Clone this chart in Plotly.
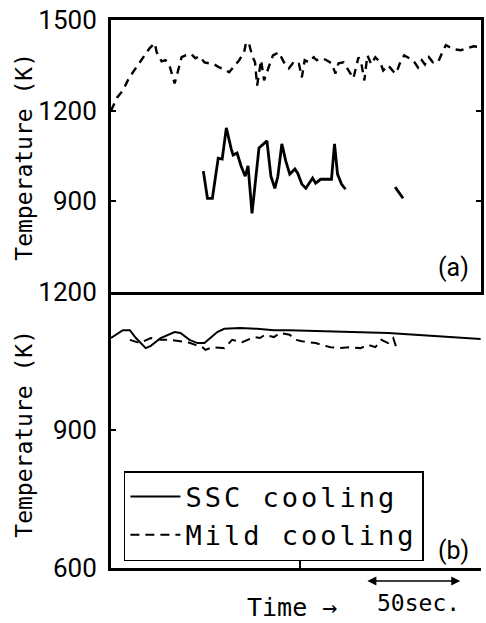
import plotly.graph_objects as go

# ---- data (time in s, temperature in K) ----
# panel (a): Mild cooling (dashed)
a_mild_t = [0, 3.2, 6.3, 8.9, 11.6, 15.3, 17.9, 20.5, 23.2, 24.2, 26.8, 28.9, 31.1, 33.7, 35.3,
            37.4, 39.5, 42.6, 44.7, 46.8, 49.5, 52.1, 54.7, 57.4, 60, 62.6, 65.3, 67.9, 70.5,
            71.6, 73.2, 74.7, 76.3, 77.4, 79.5, 81.1, 83.7, 85.8, 88.9, 91.6, 94.2, 96.3, 98.4,
            99.5, 101.1, 102.6, 104.7, 107.4, 108.9, 112.1, 114.2, 116.8, 118.9, 120.5, 123.2,
            125.8, 128.4, 131.1, 132.6, 134.2, 135.8, 137.9, 140, 142.6, 144.2, 146.8, 149.5,
            151.1, 153.2, 155.3, 157.9, 160, 162.6, 164.7, 166.3, 168.4, 170.5, 173.2, 175.3,
            177.4, 179.5, 182.1, 185.3, 188.9, 192.1, 195.3]
a_mild_T = [1200, 1243, 1267, 1300, 1327, 1360, 1387, 1407, 1423, 1393, 1363, 1367, 1347, 1290, 1327,
            1377, 1383, 1387, 1373, 1380, 1360, 1357, 1353, 1343, 1337, 1327, 1347, 1367, 1393,
            1427, 1420, 1383, 1360, 1283, 1367, 1300, 1347, 1383, 1393, 1360, 1340, 1357, 1350,
            1357, 1310, 1367, 1360, 1377, 1367, 1373, 1367, 1357, 1323, 1357, 1360,
            1333, 1307, 1377, 1357, 1300, 1383, 1353, 1377, 1360, 1333, 1350, 1330,
            1323, 1360, 1383, 1373, 1367, 1343, 1367, 1353, 1377, 1360, 1360, 1390,
            1417, 1410, 1403, 1400, 1407, 1413, 1410]

# panel (a): SSC cooling (solid)
a_ssc_t = [48.9, 51.1, 53.7, 56.8, 58.9, 61.1, 63.7, 64.7, 66.8, 68.9, 71.1, 72.6, 74.7, 76.8,
           78.4, 82.6, 84.7, 86.8, 88.4, 90.5, 92.6, 94.7, 97.4, 98.9, 101.1, 103.2, 106.8,
           108.4, 111.1, 116.8, 118.4, 120, 122.1, 124.2, None, 150.5, 154.7]
a_ssc_T = [1000, 910, 910, 1043, 1040, 1143, 1073, 1053, 1060, 1017, 983, 1017, 860, 993,
           1077, 1100, 983, 943, 983, 1090, 1033, 990, 1007, 993, 957, 943, 977,
           960, 973, 973, 1090, 990, 957, 940, None, 947, 910]

# panel (b): SSC cooling (solid)
b_ssc_t = [0, 6.3, 10, 13.2, 18.4, 21.1, 26.3, 33.7, 36.8, 41.6, 45.8, 49.5, 52.6, 56.3, 60,
           68.4, 77.4, 86.3, 94.2, 111.6, 129.5, 146.8, 161.1, 178.4, 195.8]
b_ssc_T = [1100, 1117, 1117, 1100, 1078, 1083, 1100, 1113, 1111, 1096, 1089, 1089, 1100, 1113, 1120,
           1122, 1120, 1117, 1117, 1115, 1113, 1111, 1107, 1102, 1098]

# panel (b): Mild cooling (dashed)
b_mild_t = [10, 15.3, 21.1, 26.3, 31.1, 36.3, 40.5, 44.7, 48.4, 50, 53.7, 60, 64.2, 69.5, 75.8,
            78.9, 81.6, 86.3, 89.5, 94.7, 97.9, 101.1, 104.7, 108.4, 111.6, 116.3, 121.6, 126.8,
            132.1, 136.3, 140, 143.2, 146.8, 149.5, 151.1]
b_mild_T = [1096, 1089, 1100, 1096, 1096, 1093, 1091, 1085, 1080, 1074, 1080, 1078, 1096, 1091, 1102,
            1100, 1107, 1102, 1111, 1107, 1096, 1093, 1091, 1089, 1085, 1080, 1078, 1080,
            1078, 1085, 1080, 1096, 1089, 1100, 1080]

top_ticks = [900, 1200, 1500]
bot_ticks = [600, 900, 1200]
series_names = ["SSC cooling", "Mild cooling"]
scale_bar = [135, 185]

def spaced(s, sp=3):
    return f'<span style="letter-spacing:{sp}px">{s}</span>'

fig = go.Figure()
fig.add_trace(go.Scatter(x=a_mild_t, y=a_mild_T, mode="lines", xaxis="x", yaxis="y",
                         line=dict(color="black", width=2.4, dash="8px,6px"), showlegend=False))
fig.add_trace(go.Scatter(x=a_ssc_t, y=a_ssc_T, mode="lines", xaxis="x", yaxis="y",
                         line=dict(color="black", width=2.8), showlegend=False, connectgaps=False))
fig.add_trace(go.Scatter(x=b_ssc_t, y=b_ssc_T, mode="lines", xaxis="x2", yaxis="y2",
                         name=spaced(series_names[0]), line=dict(color="black", width=2)))
fig.add_trace(go.Scatter(x=b_mild_t, y=b_mild_T, mode="lines", xaxis="x2", yaxis="y2",
                         name=spaced(series_names[1]), line=dict(color="black", width=2, dash="9px,6px")))

W, H = 486, 623
L, R, T, B = 111, 2, 20, 55
plot_h = H - T - B
split = (568 - 292) / plot_h

tickfont = dict(family="Roboto", size=26, color="black")
fig.update_layout(
    width=W, height=H, margin=dict(l=L, r=R, t=T, b=B),
    paper_bgcolor="white", plot_bgcolor="white",
    xaxis=dict(domain=[0, 1], range=[0, 196], anchor="y", showline=True, mirror=True,
               linecolor="black", linewidth=3, showgrid=False, zeroline=False,
               showticklabels=False, ticks=""),
    yaxis=dict(domain=[split, 1], range=[600, 1500], anchor="x", showline=True, mirror="ticks",
               linecolor="black", linewidth=3, showgrid=False, zeroline=False,
               tickvals=top_ticks, ticks="inside", ticklen=5, tickwidth=1.5, tickcolor="black",
               tickfont=tickfont, ticklabelstandoff=6),
    xaxis2=dict(domain=[0, 1], range=[0, 196], anchor="y2", showline=True,
                linecolor="black", linewidth=3, showgrid=False, zeroline=False,
                showticklabels=False, tickvals=[100], ticks="inside", ticklen=7,
                tickwidth=1.5, tickcolor="black"),
    yaxis2=dict(domain=[0, split], range=[600, 1200], anchor="x2", showline=True,
                linecolor="black", linewidth=3, showgrid=False, zeroline=False,
                tickvals=bot_ticks, ticks="inside", ticklen=5, tickwidth=1.5, tickcolor="black",
                tickfont=tickfont, ticklabelstandoff=6),
    legend=dict(x=(124 - L) / (W - L - R), y=(568 - 471) / plot_h, xanchor="left", yanchor="top",
                bgcolor="white", bordercolor="black", borderwidth=1.5,
                font=dict(family="DejaVu Sans Mono", size=27, color="black"),
                itemwidth=50, tracegroupgap=0),
    showlegend=True,
)

def px(xp):
    return (xp - L) / (W - L - R)

def py(yp):
    return (568 - yp) / plot_h

ann_font = dict(family="DejaVu Sans Mono", color="black")
annotations = [
    dict(text="Temperature (K)", x=px(23), y=py(157), textangle=-90,
         font=dict(size=23, **ann_font)),
    dict(text="Temperature (K)", x=px(23), y=py(434), textangle=-90,
         font=dict(size=23, **ann_font)),
    dict(text="(a)", x=px(456), y=py(267), font=dict(family="Roboto", size=25, color="black")),
    dict(text="(b)", x=px(456), y=py(550), font=dict(family="Roboto", size=25, color="black")),
    dict(text="Time →", x=px(293), y=py(607), font=dict(size=25, **ann_font)),
    dict(text="50sec.", x=px(421), y=py(603), font=dict(size=23, **ann_font)),
]
for a in annotations:
    a.update(xref="paper", yref="paper", showarrow=False, xanchor="center", yanchor="middle")

annotations.append(dict(
    x=scale_bar[1], y=py(581), xref="x2", yref="paper",
    ax=scale_bar[0], ay=0, axref="x2", ayref="pixel",
    text="", showarrow=True, arrowside="end+start", arrowhead=2, arrowsize=1.2,
    arrowwidth=1.5, arrowcolor="black"))
fig.update_layout(annotations=annotations)

fig.write_html("out.html")
